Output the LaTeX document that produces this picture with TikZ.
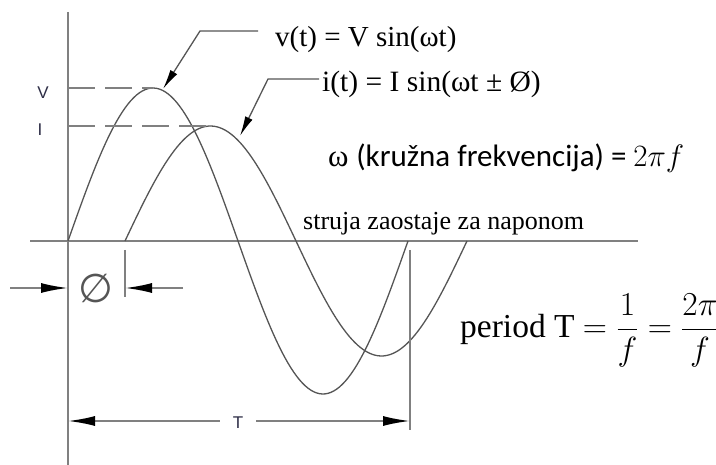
\RequirePackage{fix-cm}
\documentclass[tikz,border=0pt]{standalone}
\usepackage{amsmath}
\usepackage{fontspec}
\setmainfont{Liberation Serif}
\setsansfont{Liberation Sans}
\newfontfamily\calibri{Carlito}
\newfontfamily\symfont{DejaVu Sans}
\usetikzlibrary{arrows.meta, positioning}
\definecolor{curvegray}{RGB}{85,85,85}
\definecolor{axisgray}{RGB}{128,128,128}
\definecolor{labelblue}{RGB}{45,45,70}

\begin{document}
\begin{tikzpicture}[
    x=1pt, y=-1pt,
    >=Latex,
    curve/.style={draw=curvegray, line width=1.3pt},
    axisline/.style={draw=axisgray, line width=2pt},
    dashline/.style={draw=axisgray, line width=2pt, dash pattern=on 27pt off 10pt},
    leader/.style={draw=curvegray, line width=1.3pt, -{Latex[length=20pt, width=8pt, color=black]}},
    dimline/.style={draw=axisgray, line width=1.8pt, -{Latex[length=27pt, width=10pt, color=black]}},
    eqnode/.style={anchor=base west, inner sep=0pt, text=black},
    axlabel/.style={font=\sffamily\fontsize{17}{17}\selectfont, text=labelblue, inner sep=0pt}
]
\useasboundingbox (0,0) rectangle (716,465);

% Axes
\draw[axisline] (68,12) -- (68,465);
\draw[axisline] (30,241) -- (638,241);

% Voltage and current waves
\draw[curve] plot[domain=68:408, samples=120] (\x, {241-153*sin((\x-68)/340*360)});
\draw[curve] plot[domain=125:467, samples=120] (\x, {241-115*sin((\x-125)/342*360)});

% Peak levels
\coordinate (vpk) at (153,88);
\coordinate (ipk) at (210,126);
\node[axlabel] (vmax) at (43,93) {V};
\node[axlabel] (imax) at (40,130) {I};
\draw[dashline] (68,88) -- (vpk);
\draw[dashline] (68,126) -- (ipk);

% Equations with leaders
\node[eqnode, font=\fontsize{29}{34}\selectfont] (veq) at (275,47) {v(t) = V sin(ωt)};
\node[eqnode, font=\fontsize{29.5}{34}\selectfont] (ieq) at (322,92) {i(t) = I sin(ωt ± Ø)};
\coordinate (vstart) at (258,31);
\coordinate (vknee) at (200,31);
\coordinate (vtip) at (163,89);
\coordinate (istart) at (319,79);
\coordinate (iknee) at (268,79);
\coordinate (itip) at (240,136);
\draw[leader] (vstart) -- (vknee) -- (vtip);
\draw[leader] (istart) -- (iknee) -- (itip);

\node[eqnode, font=\fontsize{31}{35}\selectfont] (omega) at (328,167) {ω \calibri(kružna frekvencija) = $2\pi f$};
\node[eqnode, font=\fontsize{26}{30}\selectfont] (lag) at (303,230) {struja zaostaje za naponom};
\node[eqnode, font=\fontsize{33.5}{38}\selectfont] (period) at (460,338) {period T $= \dfrac{1}{f} = \dfrac{2\pi}{f}$};

% Phase shift
\coordinate (phiL) at (10,288);
\coordinate (phiLtip) at (68,288);
\coordinate (phiR) at (183,288);
\coordinate (phiRtip) at (125,288);
\draw[axisline] (125,250) -- (125,297);
\node[font=\symfont\fontsize{40}{40}\selectfont, text=curvegray, inner sep=0pt] (phi) at (96,288) {∅};
\draw[dimline] (phiL) -- (phiLtip);
\draw[dimline] (phiR) -- (phiRtip);

% Period
\coordinate (Tleft) at (68,421);
\coordinate (Tright) at (410,421);
\draw[axisline] (410,250) -- (410,430);
\node[axlabel, inner xsep=13pt] (Tlab) at (238,423) {T};
\draw[dimline] (Tlab.west |- Tleft) -- (Tleft);
\draw[dimline] (Tlab.east |- Tright) -- (Tright);

\end{tikzpicture}
\end{document}
